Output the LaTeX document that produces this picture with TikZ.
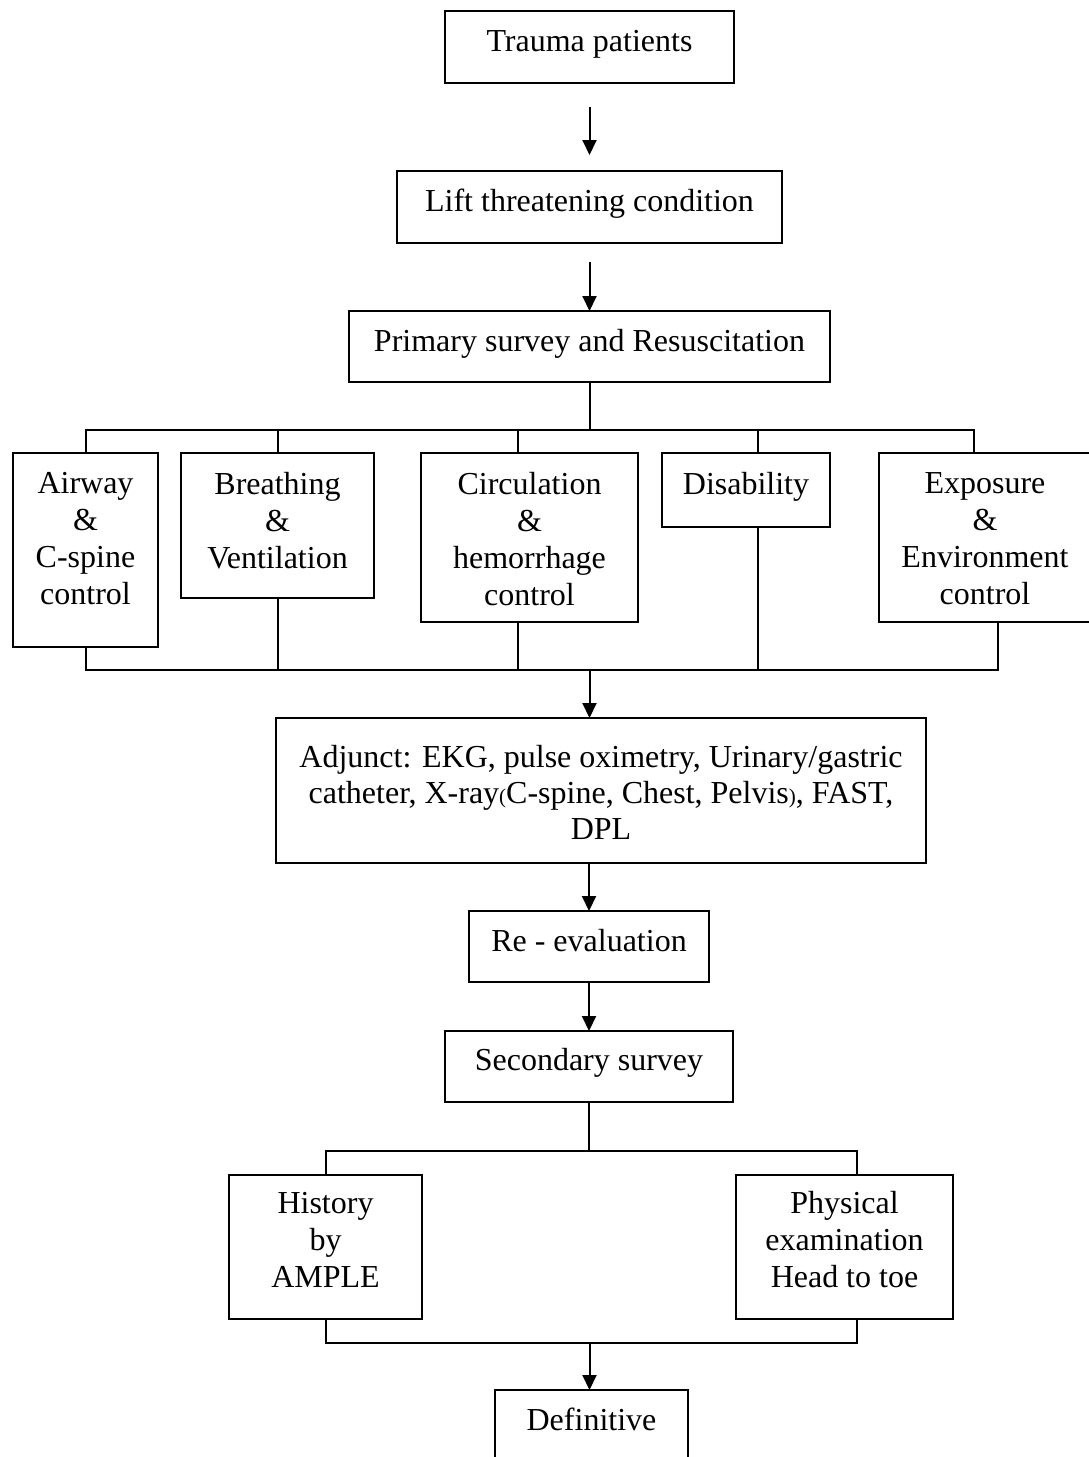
\documentclass[tikz,border=0pt]{standalone}
\usepackage{fontspec}
\setmainfont{Liberation Serif}
\usetikzlibrary{arrows.meta}
\tikzset{
  box/.style={draw, line width=2pt, inner sep=0pt, outer sep=0pt, anchor=north west},
  lbl/.style={font=\fontsize{32}{37}\selectfont, align=center, inner sep=0pt, anchor=north},
  ln/.style={line width=2pt},
  arr/.style={line width=2pt, -{Triangle[length=15pt,width=14pt]}},
}
\newcommand{\smp}[1]{{\fontsize{21}{21}\selectfont #1}}
\begin{document}
\begin{tikzpicture}[x=1pt,y=-1pt]
\useasboundingbox (0,0) rectangle (1089,1457);
% boxes
\node[box, minimum width=289, minimum height=72] (trauma) at (445,11) {};
\node[box, minimum width=385, minimum height=72] (lift) at (397,171) {};
\node[box, minimum width=481, minimum height=71] (prim) at (349,311) {};
\node[box, minimum width=145, minimum height=194] (air) at (13,453) {};
\node[box, minimum width=193, minimum height=145] (bre) at (181,453) {};
\node[box, minimum width=217, minimum height=169] (cir) at (421,453) {};
\node[box, minimum width=168, minimum height=74] (dis) at (662,453) {};
\node[box, minimum width=214, minimum height=169] (exp) at (879,453) {};
\node[box, minimum width=650, minimum height=145] (adj) at (276,718) {};
\node[box, minimum width=240, minimum height=71] (re) at (469,911) {};
\node[box, minimum width=288, minimum height=71] (sec) at (445,1031) {};
\node[box, minimum width=193, minimum height=144] (his) at (229,1175) {};
\node[box, minimum width=217, minimum height=144] (phy) at (736,1175) {};
\node[box, minimum width=193, minimum height=100] (def) at (495,1390) {};
% texts
\node[lbl] (traumat) at (589.5,30) {Trauma patients};
\node[lbl] (liftt) at (589.5,189) {Lift threatening condition};
\node[lbl] (primt) at (589.5,329) {Primary survey and Resuscitation};
\node[lbl] (airt) at (85.5,472) {Airway\\\&\\C-spine\\control};
\node[lbl] (bret) at (277.5,472) {Breathing\\\&\\Ventilation};
\node[lbl] (cirt) at (529.5,472) {Circulation\\\&\\hemorrhage\\control};
\node[lbl] (dist) at (746,472) {Disability};
\node[lbl] (expt) at (985,472) {Exposure\\\&\\Environment\\control};
\node[lbl, font=\fontsize{32}{36}\selectfont] (adjt) at (601,745) {Adjunct: EKG, pulse oximetry, Urinary/gastric\\catheter, X-ray\smp{(}C-spine, Chest, Pelvis\smp{)}, FAST,\\DPL};
\node[lbl] (ret) at (589,929) {Re - evaluation};
\node[lbl] (sect) at (589,1048) {Secondary survey};
\node[lbl] (hist) at (325.5,1192) {History\\by\\AMPLE};
\node[lbl] (phyt) at (844.5,1191) {Physical\\examination\\Head to toe};
\node[lbl] (deft) at (591.5,1408) {Definitive};
% coordinates for bars
\coordinate (tm) at (589.5,430);
\coordinate (ta) at (85.5,430);
\coordinate (tc) at (518,430);
\coordinate (td) at (758,430);
\coordinate (te) at (974,430);
\coordinate (bm) at (589.5,670);
\coordinate (ba) at (85.5,670);
\coordinate (bc) at (518,670);
\coordinate (bd) at (758,670);
\coordinate (be) at (998,670);
\coordinate (sm) at (589,1151);
\coordinate (sh) at (325.5,1151);
\coordinate (sp) at (857,1151);
\coordinate (hm) at (589.5,1343);
\coordinate (hh) at (325.5,1343);
\coordinate (hp) at (857,1343);
% connectors
\draw[arr, shorten <=24pt, shorten >=16pt] (trauma) -- (lift);
\draw[arr, shorten <=19pt] (lift) -- (prim);
\draw[ln] (prim.south) -- (tm);
\draw[ln] (air.north) -- (ta) -- (te) -- (te |- exp.north);
\draw[ln] (bre.north |- ta) -- (bre.north);
\draw[ln] (tc) -- (tc |- cir.north);
\draw[ln] (td) -- (td |- dis.north);
\draw[ln] (air.south) -- (ba) -- (be) -- (be |- exp.south);
\draw[ln] (bre.south) -- (bre.south |- ba);
\draw[ln] (bc |- cir.south) -- (bc);
\draw[ln] (bd |- dis.south) -- (bd);
\draw[arr] (bm) -- (bm |- adj.north);
\draw[arr] (adj.south -| re) -- (re.north);
\draw[arr] (re) -- (sec);
\draw[ln] (sec.south) -- (sm);
\draw[ln] (his.north) -- (sh) -- (sp) -- (sp |- phy.north);
\draw[ln] (his.south) -- (hh) -- (hp) -- (hp |- phy.south);
\draw[arr] (hm) -- (hm |- def.north);
\end{tikzpicture}
\end{document}
